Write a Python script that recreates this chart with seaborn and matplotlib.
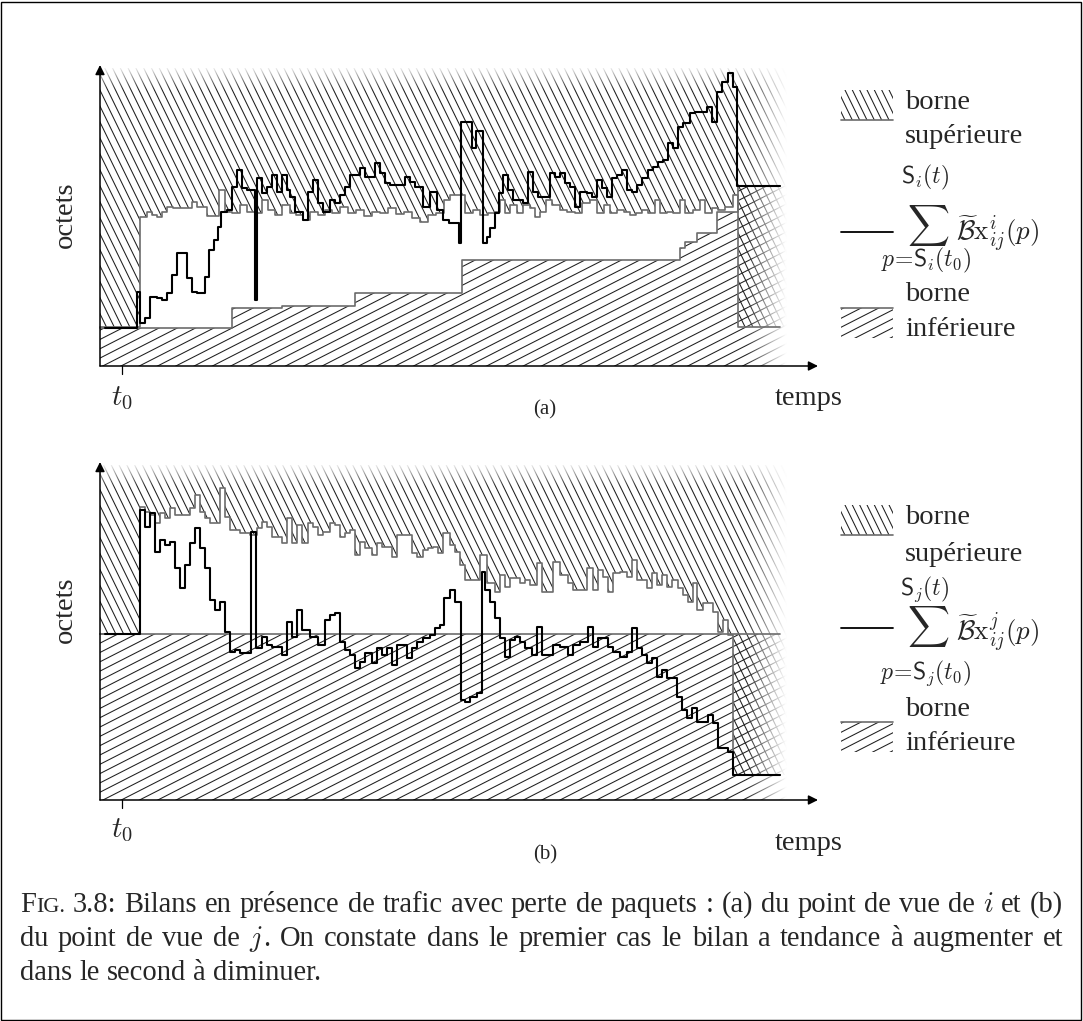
import numpy as np
import matplotlib
matplotlib.use("Agg")
import matplotlib.pyplot as plt
import seaborn as sns
from matplotlib.collections import LineCollection
from matplotlib.patches import Rectangle

# ---------------- panel (a) : point de vue de i ----------------
a_sum_t = [5, 37, 40, 45, 50, 57, 62, 67, 72, 77,
           87, 92, 97, 105, 109, 114, 118, 121, 127, 132,
           137, 142, 147, 155, 157, 162, 167, 172, 177, 182,
           187, 190, 195, 203, 208, 213, 218, 223, 230, 235,
           240, 245, 250, 260, 265, 275, 280, 285, 290, 305,
           310, 315, 323, 330, 337, 343, 349, 359, 361, 372,
           376, 383, 387, 390, 395, 399, 403, 408, 413, 423,
           428, 433, 438, 450, 455, 460, 465, 470, 475, 480,
           487, 492, 497, 502, 507, 512, 517, 522, 527, 532,
           537, 542, 548, 553, 558, 563, 568, 573, 578, 583,
           590, 595, 607, 612, 617, 622, 628, 633, 637, 680]
a_sum_v = [38, 74, 43, 48, 69, 68, 66, 73, 91, 113,
           88, 74, 73, 89, 116, 126, 139, 154, 156, 179,
           196, 178, 176, 66, 188, 173, 179, 191, 174, 191,
           176, 169, 154, 146, 174, 186, 163, 154, 166, 163,
           171, 179, 191, 198, 189, 203, 193, 183, 181, 189,
           184, 179, 159, 174, 156, 146, 143, 123, 244, 218,
           235, 123, 129, 138, 153, 173, 191, 176, 166, 163,
           194, 174, 169, 193, 189, 193, 183, 179, 159, 174,
           173, 169, 186, 178, 169, 188, 191, 196, 176, 174,
           181, 188, 196, 199, 204, 206, 223, 218, 239, 243,
           253, 254, 259, 244, 274, 284, 293, 279, 180, 180]
a_ub_t = [0, 40, 47, 52, 57, 62, 67, 73, 92, 97,
          107, 119, 125, 132, 140, 147, 155, 162, 168, 175,
          182, 190, 196, 203, 210, 218, 225, 232, 240, 248,
          256, 264, 272, 280, 288, 296, 304, 312, 320, 328,
          336, 344, 350, 358, 365, 373, 380, 388, 395, 400,
          405, 410, 417, 423, 430, 435, 440, 446, 452, 460,
          467, 475, 482, 490, 497, 504, 510, 517, 524, 530,
          536, 542, 548, 555, 560, 567, 573, 580, 585, 593,
          600, 605, 612, 618, 625, 633, 638, 680]
a_ub_v = [39, 149, 154, 151, 149, 154, 159, 158, 164, 159,
          150, 176, 154, 153, 161, 154, 153, 166, 156, 151,
          161, 153, 151, 146, 154, 151, 156, 153, 159, 153,
          156, 150, 154, 153, 158, 152, 154, 148, 144, 151,
          153, 166, 171, 171, 153, 156, 151, 153, 154, 166,
          153, 161, 153, 161, 158, 149, 154, 166, 161, 156,
          154, 153, 163, 166, 153, 161, 153, 156, 154, 151,
          153, 156, 153, 166, 153, 154, 153, 166, 153, 156,
          166, 153, 158, 156, 159, 171, 39, 39]
a_lb_t = [0, 132, 182, 255, 362, 580, 585, 597, 617, 638, 680]
a_lb_v = [38, 58, 60, 73, 106, 118, 124, 133, 154, 180, 180]

# ---------------- panel (b) : point de vue de j ----------------
b_sum_t = [5, 40, 45, 50, 55, 60, 65, 70, 75, 80,
           85, 90, 95, 100, 105, 110, 115, 120, 125, 130,
           135, 140, 151, 156, 162, 167, 172, 182, 187, 192,
           197, 202, 210, 218, 225, 230, 235, 240, 245, 250,
           255, 260, 265, 272, 277, 282, 287, 292, 297, 307,
           312, 317, 323, 330, 335, 340, 344, 350, 355, 361,
           365, 370, 377, 382, 385, 390, 395, 400, 405, 410,
           415, 420, 425, 432, 437, 442, 453, 460, 468, 473,
           480, 488, 493, 498, 508, 513, 520, 527, 532, 537,
           542, 547, 552, 557, 562, 567, 577, 582, 587, 592,
           597, 608, 613, 618, 628, 633, 680]
b_sum_v = [166, 290, 273, 287, 248, 260, 255, 258, 232, 212,
           235, 257, 272, 252, 232, 200, 190, 198, 168, 148,
           150, 147, 268, 152, 163, 155, 153, 145, 178, 163,
           190, 170, 163, 155, 180, 185, 187, 158, 150, 145,
           132, 138, 147, 137, 152, 145, 152, 135, 155, 142,
           152, 158, 162, 165, 172, 175, 202, 210, 198, 100,
           98, 103, 107, 228, 210, 198, 182, 162, 143, 160,
           163, 158, 152, 145, 173, 145, 155, 153, 145, 155,
           158, 173, 153, 162, 153, 148, 143, 148, 172, 152,
           145, 137, 142, 123, 130, 122, 103, 90, 82, 92,
           78, 85, 77, 52, 48, 25, 25]
b_ub_t = [0, 40, 45, 50, 55, 60, 65, 70, 75, 90,
          95, 100, 105, 110, 120, 125, 130, 140, 150, 157,
          162, 167, 172, 182, 187, 192, 197, 202, 208, 213,
          218, 223, 230, 235, 240, 245, 250, 255, 260, 265,
          272, 277, 282, 292, 297, 312, 317, 323, 328, 333,
          338, 343, 350, 355, 360, 365, 380, 387, 395, 400,
          405, 410, 420, 425, 430, 437, 442, 453, 460, 468,
          473, 487, 493, 498, 503, 508, 513, 520, 527, 532,
          537, 547, 552, 557, 562, 567, 572, 578, 583, 588,
          593, 597, 603, 613, 618, 623, 628, 633, 680]
b_ub_v = [166, 293, 288, 285, 277, 287, 282, 292, 285, 292,
          305, 288, 282, 277, 312, 283, 270, 267, 265, 272,
          278, 273, 263, 257, 282, 257, 275, 257, 277, 273,
          265, 268, 277, 275, 263, 267, 270, 245, 258, 252,
          245, 257, 253, 243, 265, 247, 243, 250, 252, 253,
          247, 267, 255, 248, 235, 220, 245, 217, 208, 225,
          213, 222, 217, 220, 215, 237, 208, 238, 225, 217,
          210, 232, 210, 230, 223, 208, 227, 228, 223, 240,
          220, 212, 227, 215, 225, 213, 220, 212, 205, 198,
          217, 190, 197, 188, 168, 180, 165, 25, 25]
b_lb_t = [0, 680]
b_lb_v = [166, 166]

caption_lines = [
    "FIG. 3.8: Bilans en présence de trafic avec perte de paquets : (a) du point de vue de $i$ et (b)",
    "du point de vue de $j$. On constate dans le premier cas le bilan a tendance à augmenter et",
    "dans le second à diminuer.",
]

for arr_t, arr_v in [(a_sum_t, a_sum_v), (a_ub_t, a_ub_v), (a_lb_t, a_lb_v),
                     (b_sum_t, b_sum_v), (b_ub_t, b_ub_v), (b_lb_t, b_lb_v)]:
    assert len(arr_t) == len(arr_v), (len(arr_t), len(arr_v))

# ---------------- style ----------------
sns.set_theme(style="white")
plt.rcParams["font.family"] = ["Liberation Serif", "DejaVu Serif"]
plt.rcParams["mathtext.fontset"] = "cm"

W, H = 1083, 1021
fig = plt.figure(figsize=(W / 100, H / 100), dpi=100)

GRAY = "#6c6c6c"
HCOL = "#1e1e1e"
T_END_HATCH = 700
FS = 20.5


def add_hatch(ax, clip_path, clip_transform, angle, spacing, bbox, lw=0.75, z=1):
    x0, x1, y0, y1 = bbox
    a = np.deg2rad(angle)
    d = np.array([np.cos(a), np.sin(a)])
    n = np.array([-np.sin(a), np.cos(a)])
    c = np.array([(x0 + x1) / 2, (y0 + y1) / 2])
    corners = np.array([[x0, y0], [x0, y1], [x1, y0], [x1, y1]]) - c
    proj = corners @ n
    L = np.hypot(x1 - x0, y1 - y0)
    k0 = int(np.floor(proj.min() / spacing)) - 1
    k1 = int(np.ceil(proj.max() / spacing)) + 1
    segs = [[c + k * spacing * n - L * d, c + k * spacing * n + L * d] for k in range(k0, k1 + 1)]
    lc = LineCollection(segs, colors=HCOL, linewidths=lw, zorder=z)
    ax.add_collection(lc, autolim=False)
    lc.set_clip_path(clip_path, clip_transform)
    return lc


def step_fill_path(ax, t, lo, hi):
    poly = ax.fill_between(t, lo, hi, step="post", facecolor="none", edgecolor="none", linewidth=0)
    return poly.get_paths()[0]


UP_ANGLE, UP_SP = -64, 7.0
LO_ANGLE, LO_SP = 27, 8.3

panels = [
    dict(sum_t=a_sum_t, sum_v=a_sum_v, ub_t=a_ub_t, ub_v=a_ub_v, lb_t=a_lb_t, lb_v=a_lb_v,
         rect=[0, (H - 440) / H, 1, 400 / H], ylim=(-74, 326), top=298, tip=301,
         tag="(a)", tag_v=-44, t0_v=-32, temps_v=-32, oct_v=151,
         sw_up=246, b1=257, sup=223, sS=189, sig=141, line=134, term=133, sub=106,
         b2=65, inf=30, sw_lo=28, idx="i"),
    dict(sum_t=b_sum_t, sum_v=b_sum_v, ub_t=b_ub_t, ub_v=b_ub_v, lb_t=b_lb_t, lb_v=b_lb_v,
         rect=[0, (H - 880) / H, 1, 440 / H], ylim=(-80, 360), top=335, tip=338,
         tag="(b)", tag_v=-55, t0_v=-30, temps_v=-43, oct_v=190,
         sw_up=265, b1=276, sup=239, sS=211, sig=174, line=172, term=168, sub=127,
         b2=84, inf=50, sw_lo=48, idx="j"),
]

for P in panels:
    ax = fig.add_axes(P["rect"])
    ax.set_axis_off()
    top = P["top"]

    # hatched regions (upper bound / lower bound), extended to the faded right edge
    ub_t = list(P["ub_t"]) + [T_END_HATCH]
    ub_v = list(P["ub_v"]) + [P["ub_v"][-1]]
    lb_t = list(P["lb_t"]) + [T_END_HATCH]
    lb_v = list(P["lb_v"]) + [P["lb_v"][-1]]
    bbox = (-2, T_END_HATCH + 2, -4, top + 4)
    up_path = step_fill_path(ax, ub_t, ub_v, [top] * len(ub_t))
    lo_path = step_fill_path(ax, lb_t, [0] * len(lb_t), lb_v)
    add_hatch(ax, up_path, ax.transData, UP_ANGLE, UP_SP, bbox)
    add_hatch(ax, lo_path, ax.transData, LO_ANGLE, LO_SP, bbox)

    # fading of the hatching on the right and at the top
    xs = np.linspace(640, 705, 200)
    img = np.ones((1, xs.size, 4))
    img[..., 3] = np.clip((xs - 646) / 40, 0, 1)
    ax.imshow(img, extent=[640, 705, -6, top + 6], aspect="auto", zorder=2,
              interpolation="bilinear", origin="lower")
    ys = np.linspace(top - 22, top + 3, 80)
    img2 = np.ones((ys.size, 1, 4))
    img2[..., 3] = np.clip((ys - (top - 22)) / 22, 0, 1)[:, None] * 0.92
    ax.imshow(img2, extent=[-1, 705, top - 22, top + 3], aspect="auto", zorder=2,
              interpolation="bilinear", origin="lower")

    # bounds (gray) and balance (black)
    sns.lineplot(x=P["ub_t"], y=P["ub_v"], drawstyle="steps-post", estimator=None, sort=False,
                 color=GRAY, lw=1.2, ax=ax, zorder=3)
    sns.lineplot(x=P["lb_t"], y=P["lb_v"], drawstyle="steps-post", estimator=None, sort=False,
                 color=GRAY, lw=1.2, ax=ax, zorder=3)
    sns.lineplot(x=P["sum_t"], y=P["sum_v"], drawstyle="steps-post", estimator=None, sort=False,
                 color="black", lw=1.5, ax=ax, zorder=4)

    # axes with arrows
    ax.annotate("", xy=(718, 0), xytext=(0, 0), zorder=6,
                arrowprops=dict(arrowstyle="-|>", color="black", lw=1.1, mutation_scale=14,
                                shrinkA=0, shrinkB=0))
    ax.annotate("", xy=(0, P["tip"]), xytext=(0, 0), zorder=6,
                arrowprops=dict(arrowstyle="-|>", color="black", lw=1.1, mutation_scale=14,
                                shrinkA=0, shrinkB=0))
    ax.plot([22, 22], [0, -8], color="black", lw=0.9, zorder=6)

    ax.text(22, P["t0_v"], r"$t_0$", ha="center", va="center", size=21)
    ax.text(445, P["tag_v"], P["tag"], ha="center", va="center", size=15)
    ax.text(675, P["temps_v"], "temps", ha="left", va="center", size=FS)
    ax.text(-35, P["oct_v"], "octets", ha="center", va="center", rotation=90, size=FS)

    # legend
    sw_x0, sw_w, sw_h = 741, 52, 30
    r_up = Rectangle((sw_x0, P["sw_up"]), sw_w, sw_h, fill=False, lw=0)
    ax.add_patch(r_up)
    add_hatch(ax, r_up, None, UP_ANGLE, 6.6, (sw_x0 - 2, sw_x0 + sw_w + 2, P["sw_up"] - 2, P["sw_up"] + sw_h + 2))
    ax.plot([sw_x0, sw_x0 + sw_w], [P["sw_up"], P["sw_up"]], color=GRAY, lw=1.2)
    r_lo = Rectangle((sw_x0, P["sw_lo"]), sw_w, sw_h, fill=False, lw=0)
    ax.add_patch(r_lo)
    add_hatch(ax, r_lo, None, LO_ANGLE, 8.0, (sw_x0 - 2, sw_x0 + sw_w + 2, P["sw_lo"] - 2, P["sw_lo"] + sw_h + 2))
    ax.plot([sw_x0, sw_x0 + sw_w], [P["sw_lo"] + sw_h, P["sw_lo"] + sw_h], color=GRAY, lw=1.2)
    ax.plot([sw_x0, sw_x0 + sw_w], [P["line"], P["line"]], color="black", lw=1.3)

    ax.text(805, P["b1"], "borne", ha="left", va="baseline", size=FS)
    ax.text(805, P["sup"], "supérieure", ha="left", va="baseline", size=FS)
    ax.text(805, P["b2"], "borne", ha="left", va="baseline", size=FS)
    ax.text(805, P["inf"], "inférieure", ha="left", va="baseline", size=FS)
    k = P["idx"]
    ax.text(825, P["sS"], r"$\mathsf{S}_%s(t)$" % k, ha="center", va="center", size=17)
    ax.text(828, P["sig"], r"$\sum$", ha="center", va="center", size=21)
    ax.text(826, P["sub"], r"$p\!=\!\mathsf{S}_%s(t_0)$" % k, ha="center", va="center", size=17)
    ax.text(856, P["term"], r"$\widetilde{\mathcal{B}}\mathrm{x}_{ij}^{%s}(p)$" % k,
            ha="left", va="center", size=19.5)

    ax.set_xlim(-100, 983)
    ax.set_ylim(*P["ylim"])

# outer frame
fig.add_artist(Rectangle((1 / W, 1.5 / H), 1080 / W, 1017.5 / H, transform=fig.transFigure,
                         fill=False, edgecolor="black", lw=1.0))

# caption (justified like the original)
renderer = fig.canvas.get_renderer()


def tw(s, size):
    t = fig.text(0, 0, s, size=size)
    w = t.get_window_extent(renderer=renderer).width
    t.remove()
    return w


def split_words(line):
    words = []
    for w in line.split(" "):
        if w == "FIG.":
            words.append([("F", 1.0), ("IG.", 0.78)])
        elif w == "$j$.":
            words.append([("$j$", 1.0), (".", 1.0)])
        else:
            words.append([(w, 1.0)])
    return words


base = 18.0
space = tw("a a", base) - tw("aa", base)
w1 = split_words(caption_lines[0])
nat = sum(sum(tw(s, base * f) for s, f in w) for w in w1) + space * (len(w1) - 1)
cap_size = base * 1030.0 / nat
space = tw("a a", cap_size) - tw("aa", cap_size)

baselines = [912, 946, 980]
for i, line in enumerate(caption_lines):
    words = split_words(line)
    widths = [sum(tw(s, cap_size * f) for s, f in w) for w in words]
    if i < 2:
        gap = (1063 - 20 - sum(widths)) / (len(words) - 1)
    else:
        gap = space
    x = 20.0
    for w, ww in zip(words, widths):
        xx = x
        for s, f in w:
            fig.text(xx / W, 1 - baselines[i] / H, s, size=cap_size * f, ha="left", va="baseline")
            xx += tw(s, cap_size * f)
        x += ww + gap

fig.savefig("out.png", dpi=100, facecolor="white")
